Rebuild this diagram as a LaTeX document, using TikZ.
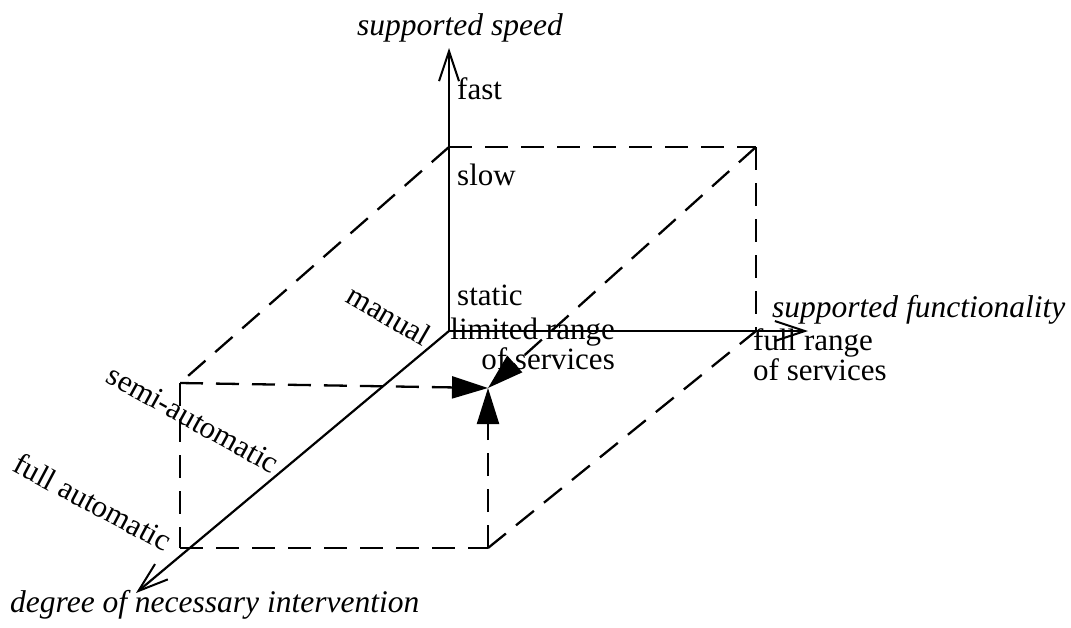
\documentclass[tikz,border=0pt]{standalone}
\usepackage{fontspec}
\setmainfont{Liberation Serif}
\usetikzlibrary{arrows.meta}
\begin{document}
\begin{tikzpicture}[x=1pt,y=-1pt,
  axis/.style={line width=2.2pt, -{Straight Barb[length=30pt,width=20pt,line width=2pt]}},
  guide/.style={line width=2.3pt, dash pattern=on 23pt off 13pt},
  guidearrow/.style={guide, -{Triangle[length=36pt,width=22pt]}},
  lbl/.style={inner sep=0pt, font=\fontsize{31}{33}\selectfont},
  ilbl/.style={inner sep=0pt, font=\fontsize{31.5}{33}\selectfont\itshape},
]
\useasboundingbox (0,0) rectangle (1071,627);
% key points
\coordinate (O) at (449,331);
\coordinate (Vtop) at (449,48);
\coordinate (Htip) at (808,331);
\coordinate (Dtip) at (136,593);
\coordinate (A) at (449,147);
\coordinate (B) at (756,147);
\coordinate (C) at (756,331);
\coordinate (D) at (180,383);
\coordinate (E) at (180,548);
\coordinate (F) at (488,548);
\coordinate (P) at (488,388);
% dashed guides
\draw[guide] (A) -- (B);
\draw[guide] (B) -- (C);
\draw[guide] (A) -- (D);
\draw[guide] (D) -- (E);
\draw[guide] (E) -- (F);
\draw[guide] (F) -- (C);
\draw[guidearrow] (D) -- (P);
\draw[guidearrow] (F) -- (P);
\draw[guidearrow] (B) -- (P);
% axes
\draw[axis] (O) -- (Vtop);
\draw[axis] (O) -- (Htip);
\draw[axis] (O) -- (Dtip);
% labels
\node[ilbl, anchor=base west] (speed) at (357,35) {supported speed};
\node[lbl, anchor=base west] (fast) at (457,99) {fast};
\node[lbl, anchor=base west] (slow) at (457,185) {slow};
\node[lbl, anchor=base west] (static) at (457,305) {static};
\node[ilbl, anchor=base west] (func) at (772,317) {supported functionality};
\node[lbl, anchor=base west, align=left, font=\fontsize{31}{28}\selectfont] (full) at (753,380) {full range\\of services};
\node[lbl, anchor=base east, align=right, font=\fontsize{31}{20}\selectfont] (lim) at (615,369) {limited range\\of services};
\node[lbl, rotate=-30] (manual) at (389,315) {manual};
\node[lbl, rotate=-29] (semi) at (193,419) {semi-automatic};
\node[lbl, rotate=-28] (fullauto) at (93,502) {full automatic};
\node[ilbl, anchor=base west] (deg) at (10,612) {degree of necessary intervention};
\end{tikzpicture}
\end{document}
